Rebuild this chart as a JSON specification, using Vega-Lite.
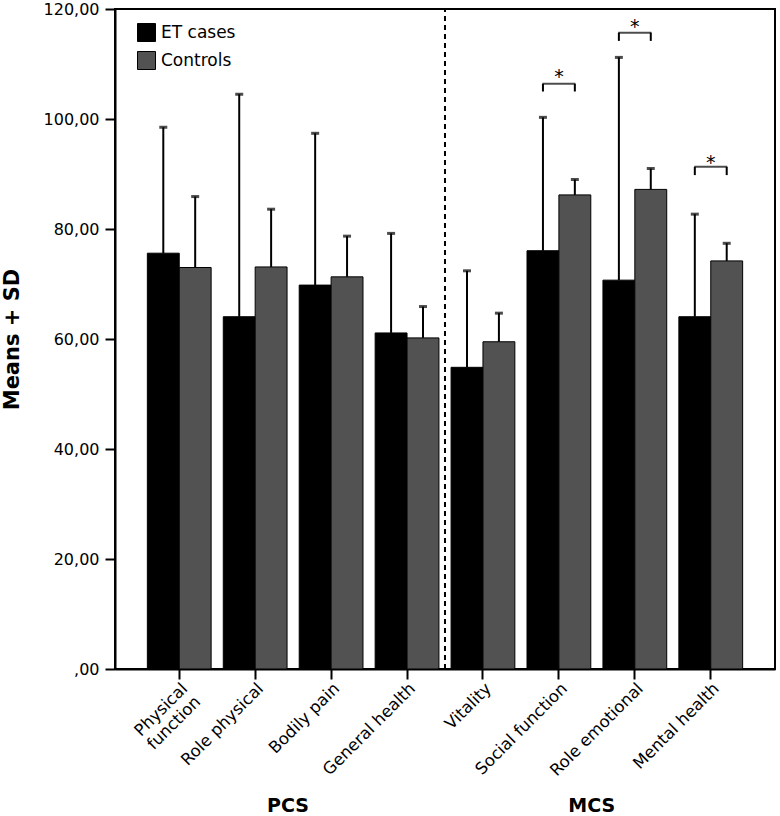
{
  "$schema": "https://vega.github.io/schema/vega-lite/v6.json",
  "autosize": {"type": "none"},
  "width": 660,
  "height": 660,
  "padding": {"left": 115, "top": 9, "right": 5, "bottom": 147},
  "background": "white",
  "config": {
    "font": "DejaVu Sans",
    "view": {"stroke": "#000", "strokeWidth": 2},
    "axis": {"domainColor": "#000", "domainWidth": 2, "tickColor": "#000", "tickWidth": 2, "labelColor": "#000", "titleColor": "#000", "grid": false}
  },
  "datasets": {
    "bars": [
      {"cat": "Physical function", "grp": "ET cases", "mean": 75.6, "upper": 98.5},
      {"cat": "Physical function", "grp": "Controls", "mean": 73.0, "upper": 85.9},
      {"cat": "Role physical", "grp": "ET cases", "mean": 64.05, "upper": 104.5},
      {"cat": "Role physical", "grp": "Controls", "mean": 73.1, "upper": 83.6},
      {"cat": "Bodily pain", "grp": "ET cases", "mean": 69.8, "upper": 97.4},
      {"cat": "Bodily pain", "grp": "Controls", "mean": 71.3, "upper": 78.7},
      {"cat": "General health", "grp": "ET cases", "mean": 61.1, "upper": 79.2},
      {"cat": "General health", "grp": "Controls", "mean": 60.2, "upper": 65.9},
      {"cat": "Vitality", "grp": "ET cases", "mean": 54.85, "upper": 72.4},
      {"cat": "Vitality", "grp": "Controls", "mean": 59.5, "upper": 64.7},
      {"cat": "Social function", "grp": "ET cases", "mean": 76.05, "upper": 100.3},
      {"cat": "Social function", "grp": "Controls", "mean": 86.2, "upper": 89.0},
      {"cat": "Role emotional", "grp": "ET cases", "mean": 70.7, "upper": 111.2},
      {"cat": "Role emotional", "grp": "Controls", "mean": 87.2, "upper": 91.0},
      {"cat": "Mental health", "grp": "ET cases", "mean": 64.05, "upper": 82.7},
      {"cat": "Mental health", "grp": "Controls", "mean": 74.2, "upper": 77.4}
    ],
    "legs": [
      {"cat": "Social function", "grp": "ET cases", "top": 106.4, "leg": 105.0},
      {"cat": "Social function", "grp": "Controls", "top": 106.4, "leg": 105.0},
      {"cat": "Role emotional", "grp": "ET cases", "top": 115.7, "leg": 114.2},
      {"cat": "Role emotional", "grp": "Controls", "top": 115.7, "leg": 114.2},
      {"cat": "Mental health", "grp": "ET cases", "top": 91.3, "leg": 89.8},
      {"cat": "Mental health", "grp": "Controls", "top": 91.3, "leg": 89.8}
    ],
    "sig": [
      {"cat": "Social function", "top": 106.4, "star": 108.3},
      {"cat": "Role emotional", "top": 115.7, "star": 117.5},
      {"cat": "Mental health", "top": 91.3, "star": 92.7}
    ],
    "sections": [
      {"section": "PCS", "after": "Role physical", "ypos": -24.9},
      {"section": "MCS", "after": "Social function", "ypos": -24.9}
    ],
    "divider": [
      {"after": "General health", "y0": 0, "y1": 120}
    ]
  },
  "layer": [
    {
      "data": {"name": "bars"},
      "mark": {"type": "bar", "stroke": "#000", "strokeWidth": 1},
      "encoding": {
        "x": {
          "field": "cat", "type": "nominal", "sort": null,
          "scale": {"paddingInner": 0.16, "paddingOuter": 0.426},
          "axis": {
            "title": null, "labelAngle": -45, "labelFontSize": 16.5, "tickSize": 10,
            "labelPadding": 1,
            "labelExpr": "datum.label == 'Physical function' ? ['Physical', 'function'] : datum.label"
          }
        },
        "xOffset": {"field": "grp", "type": "nominal", "sort": ["ET cases", "Controls"], "scale": {"paddingInner": 0, "paddingOuter": 0}},
        "y": {
          "field": "mean", "type": "quantitative",
          "scale": {"domain": [0, 120], "nice": false},
          "axis": {
            "title": "Means + SD", "titleFontSize": 21, "titleFontWeight": "bold", "titlePadding": 21,
            "values": [0, 20, 40, 60, 80, 100, 120], "labelFontSize": 16, "tickSize": 10, "labelPadding": 6,
            "labelExpr": "datum.value == 0 ? ',00' : replace(format(datum.value, '.2f'), '.', ',')"
          }
        },
        "color": {
          "field": "grp", "type": "nominal", "sort": ["ET cases", "Controls"],
          "scale": {"domain": ["ET cases", "Controls"], "range": ["#000000", "#525252"]},
          "legend": {
            "title": null, "orient": "none", "legendX": 22, "legendY": 14,
            "symbolType": "square", "symbolSize": 324, "symbolStrokeColor": "#000", "symbolStrokeWidth": 1,
            "symbolOpacity": 1, "labelFontSize": 17, "labelColor": "#000", "rowPadding": 5, "labelOffset": 5
          }
        }
      }
    },
    {
      "data": {"name": "bars"},
      "mark": {"type": "rule", "strokeWidth": 2, "color": "#000"},
      "encoding": {
        "x": {"field": "cat", "type": "nominal", "sort": null},
        "xOffset": {"field": "grp", "type": "nominal", "sort": ["ET cases", "Controls"]},
        "y": {"field": "mean", "type": "quantitative"},
        "y2": {"field": "upper"}
      }
    },
    {
      "data": {"name": "bars"},
      "mark": {"type": "tick", "color": "#000", "size": 8, "thickness": 3, "orient": "horizontal"},
      "encoding": {
        "x": {"field": "cat", "type": "nominal", "sort": null},
        "xOffset": {"field": "grp", "type": "nominal", "sort": ["ET cases", "Controls"]},
        "y": {"field": "upper", "type": "quantitative"}
      }
    },
    {
      "data": {"name": "legs"},
      "mark": {"type": "rule", "strokeWidth": 2, "color": "#000"},
      "encoding": {
        "x": {"field": "cat", "type": "nominal", "sort": null},
        "xOffset": {"field": "grp", "type": "nominal", "sort": ["ET cases", "Controls"]},
        "y": {"field": "top", "type": "quantitative"},
        "y2": {"field": "leg"}
      }
    },
    {
      "data": {"name": "sig"},
      "mark": {"type": "tick", "color": "#000", "size": 33, "thickness": 2, "orient": "horizontal"},
      "encoding": {
        "x": {"field": "cat", "type": "nominal", "sort": null},
        "y": {"field": "top", "type": "quantitative"}
      }
    },
    {
      "data": {"name": "sig"},
      "mark": {"type": "text", "text": "*", "fontSize": 19, "baseline": "middle", "dy": 4, "color": "#000"},
      "encoding": {
        "x": {"field": "cat", "type": "nominal", "sort": null},
        "y": {"field": "star", "type": "quantitative"}
      }
    },
    {
      "data": {"name": "divider"},
      "mark": {"type": "rule", "strokeWidth": 2, "strokeDash": [5, 4], "color": "#000"},
      "encoding": {
        "x": {"field": "after", "type": "nominal", "sort": null, "bandPosition": 1.095},
        "y": {"field": "y0", "type": "quantitative"},
        "y2": {"field": "y1"}
      }
    },
    {
      "data": {"name": "sections"},
      "mark": {"type": "text", "fontSize": 19, "fontWeight": "bold", "baseline": "middle", "align": "center", "color": "#000", "clip": false},
      "encoding": {
        "x": {"field": "after", "type": "nominal", "sort": null, "bandPosition": 1.015},
        "y": {"field": "ypos", "type": "quantitative"},
        "text": {"field": "section"}
      }
    }
  ]
}
